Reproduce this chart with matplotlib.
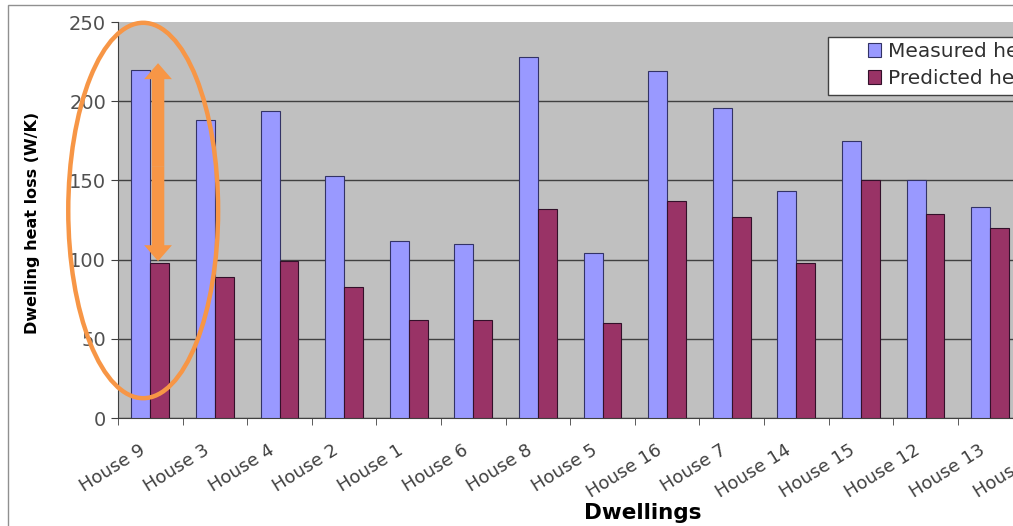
import matplotlib.pyplot as plt
import numpy as np
from matplotlib.patches import Ellipse, Rectangle
from matplotlib.transforms import ScaledTranslation

houses = ["House 9", "House 3", "House 4", "House 2", "House 1", "House 6", "House 8",
          "House 5", "House 16", "House 7", "House 14", "House 15", "House 12", "House 13",
          "House 10"]
measured = [220, 188, 194, 153, 112, 110, 228, 104, 219, 196, 143, 175, 150, 133, 140]
predicted = [98, 89, 99, 83, 62, 62, 132, 60, 137, 127, 98, 150, 129, 120, 115]
series_names = ["Measured heat loss", "Predicted heat loss"]

plt.rcParams['font.family'] = ['DejaVu Sans']

W, H = 1013, 526
fig = plt.figure(figsize=(W / 100, H / 100), dpi=100)
fig.patch.set_facecolor('white')

# axes run past the right edge, like the cropped original
ax = fig.add_axes([118 / W, 1 - 418 / H, (1087 - 118) / W, (418 - 22) / H])
ax.set_facecolor('#C0C0C0')

x = np.arange(len(houses))
bw = 0.294
b1 = ax.bar(x - bw / 2, measured, bw, color='#9999FF', edgecolor='#333366', linewidth=0.8, zorder=3)
b2 = ax.bar(x + bw / 2, predicted, bw, color='#993366', edgecolor='#33102a', linewidth=0.8, zorder=3)

ax.set_xlim(-0.5, len(houses) - 0.5)
ax.set_ylim(0, 250)
ax.set_yticks(np.arange(0, 251, 50))
ax.yaxis.grid(True, color='#404040', linewidth=1, zorder=1)
ax.set_axisbelow(True)
ax.yaxis.get_gridlines()[-1].set_visible(False)

ax.set_xticks(x)
ax.set_xticklabels(houses, rotation=32, ha='right', va='center', rotation_mode='anchor')
ax.set_xticks(np.arange(-0.5, len(houses), 1), minor=True)
ax.tick_params(axis='x', which='major', length=0, pad=22, labelsize=13, labelcolor='#404040')
ax.tick_params(axis='x', which='minor', length=5, color='#404040', direction='out')
ax.tick_params(axis='y', length=5, color='#404040', pad=3.6, labelsize=14, labelcolor='#505050')
for lbl in ax.get_xticklabels():
    lbl.set_transform(lbl.get_transform() + ScaledTranslation(-7 / 100, 0, fig.dpi_scale_trans))

for s in ['top', 'right']:
    ax.spines[s].set_visible(False)
ax.spines['left'].set_color('#404040')
ax.spines['bottom'].set_color('#404040')

fig.text(33 / W, 1 - 223 / H, "Dwelling heat loss (W/K)", rotation=90, ha='center', va='center',
         fontsize=11.5, fontweight='bold')
fig.text(643 / W, 1 - 513 / H, "Dwellings", ha='center', va='center', fontsize=15.5, fontweight='bold')

# outer chart border
fig.patches.append(Rectangle((8 / W, -0.1), 1.2, 1.1 - 5 / H, transform=fig.transFigure,
                             fill=False, edgecolor='#909090', linewidth=1))

# legend box (cut off at the right)
fig.patches.append(Rectangle((828 / W, 1 - 95 / H), 0.3, 58 / H, transform=fig.transFigure,
                             facecolor='white', edgecolor='#404040', linewidth=1, zorder=4))
fig.legend([b1, b2], series_names, loc='upper left', bbox_to_anchor=(868 / W, 1 - 42 / H),
           frameon=False, fontsize=14.5, handlelength=0.65, handleheight=0.65, handletextpad=0.35,
           labelspacing=0.4, borderpad=0, borderaxespad=0, labelcolor='#303030')

# orange highlight around House 9
ax.add_patch(Ellipse((-0.11, 131), 2.32, 237, fill=False, edgecolor='#F79646', linewidth=3.2,
                     zorder=6, clip_on=False))
mid = (measured[0] + predicted[0]) / 2
for end in [measured[0] + 4, predicted[0] + 1]:
    ax.annotate('', xy=(0.12, end), xytext=(0.12, mid),
                arrowprops=dict(arrowstyle='simple,head_length=1.15,head_width=2.0,tail_width=0.9',
                                mutation_scale=10, color='#F79646', lw=0, shrinkA=0, shrinkB=0),
                zorder=7)

plt.savefig('out.png', dpi=100)
